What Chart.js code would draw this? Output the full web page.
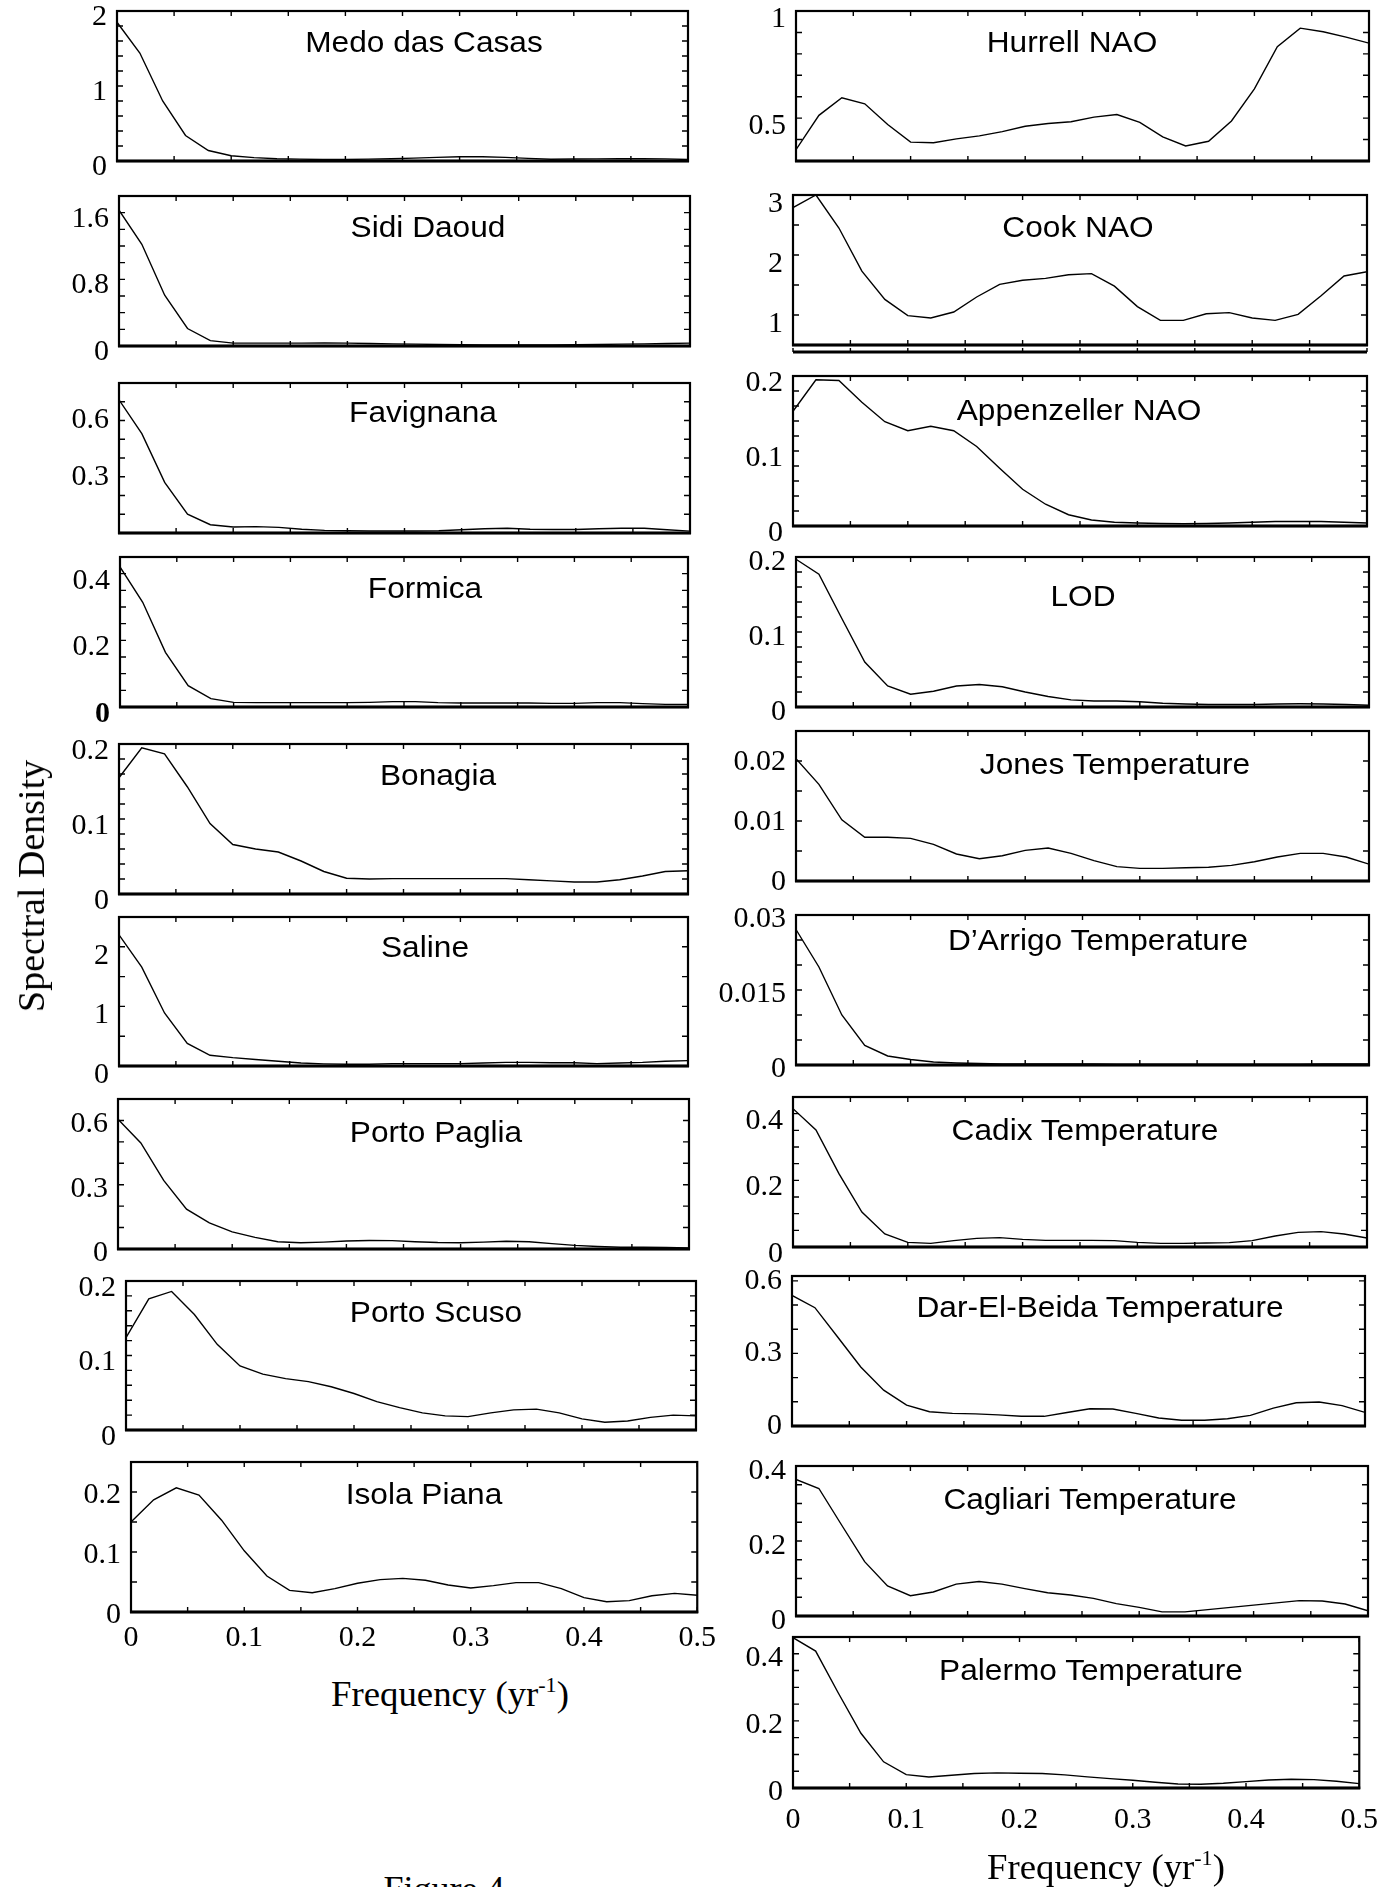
<!DOCTYPE html>
<html><head><meta charset="utf-8">
<script src="https://cdn.jsdelivr.net/npm/chart.js@4.4.1/dist/chart.umd.min.js"></script>
<style>
html,body{margin:0;padding:0;background:#fff;}
#page{position:relative;width:1394px;height:1887px;overflow:hidden;background:#fff;}
#page canvas{position:absolute;}
.t{position:absolute;white-space:nowrap;line-height:1;color:#000;}
.ttl{font-family:'Liberation Sans',Arial,sans-serif;font-size:30px;transform:translate(-50%,-50%) scaleX(1.055);}
.ax{font-family:'Liberation Serif','Times New Roman',serif;font-size:35px;transform:translate(-50%,-50%) scaleX(1.05);}
.ax .sp{font-size:21px;position:relative;top:-14px;}
</style></head><body><div id="page"></div>
<script>
// ---------- data ----------
const freq = [0,0.02,0.04,0.06,0.08,0.10,0.12,0.14,0.16,0.18,0.20,0.22,0.24,0.26,0.28,0.30,0.32,0.34,0.36,0.38,0.40,0.42,0.44,0.46,0.48,0.50];
const xTickLabels = [0,0.1,0.2,0.3,0.4,0.5];

const medo = [1.85,1.44,0.80,0.34,0.14,0.07,0.045,0.03,0.025,0.02,0.02,0.025,0.03,0.038,0.048,0.057,0.057,0.048,0.035,0.024,0.026,0.028,0.03,0.03,0.028,0.02];
const sidiDaoud = [1.63,1.22,0.61,0.21,0.065,0.034,0.034,0.034,0.035,0.036,0.034,0.03,0.026,0.022,0.018,0.015,0.013,0.012,0.012,0.013,0.015,0.018,0.022,0.026,0.03,0.034];
const favignana = [0.71,0.53,0.27,0.10,0.044,0.032,0.034,0.03,0.02,0.014,0.012,0.011,0.011,0.011,0.012,0.017,0.023,0.025,0.02,0.019,0.019,0.023,0.025,0.025,0.017,0.01];
const formica = [0.42,0.314,0.164,0.064,0.025,0.014,0.013,0.013,0.013,0.013,0.013,0.014,0.016,0.016,0.013,0.012,0.012,0.012,0.012,0.011,0.011,0.013,0.013,0.01,0.008,0.008];
const bonagia = [0.155,0.195,0.187,0.143,0.094,0.066,0.060,0.056,0.044,0.030,0.021,0.020,0.0205,0.0205,0.0205,0.0205,0.0205,0.0205,0.019,0.0175,0.016,0.016,0.019,0.024,0.030,0.031];
const saline = [2.20,1.66,0.89,0.38,0.18,0.14,0.11,0.08,0.05,0.036,0.03,0.03,0.04,0.04,0.04,0.04,0.05,0.06,0.06,0.054,0.054,0.04,0.05,0.06,0.08,0.09];
const portoPaglia = [0.605,0.495,0.32,0.186,0.122,0.08,0.054,0.034,0.029,0.032,0.037,0.04,0.039,0.034,0.03,0.029,0.032,0.036,0.034,0.025,0.017,0.012,0.008,0.008,0.007,0.005];
const portoScuso = [0.124,0.176,0.186,0.155,0.115,0.086,0.075,0.069,0.065,0.058,0.049,0.038,0.030,0.023,0.019,0.018,0.023,0.027,0.028,0.023,0.015,0.0105,0.012,0.017,0.020,0.019];
const isolaPiana = [0.15,0.187,0.207,0.195,0.153,0.102,0.06,0.036,0.032,0.039,0.048,0.054,0.056,0.053,0.045,0.040,0.044,0.049,0.049,0.039,0.024,0.017,0.019,0.027,0.031,0.028];

const hurrellNAO = [0.353,0.513,0.595,0.567,0.47,0.388,0.385,0.403,0.417,0.437,0.462,0.475,0.483,0.505,0.517,0.48,0.413,0.37,0.392,0.487,0.637,0.833,0.92,0.903,0.878,0.85];
const cookNAO = [2.79,3.0,2.45,1.73,1.26,0.99,0.95,1.05,1.30,1.51,1.58,1.61,1.67,1.69,1.48,1.14,0.91,0.91,1.02,1.04,0.95,0.91,1.01,1.32,1.65,1.72];
const appenzellerNAO = [0.153,0.195,0.194,0.165,0.139,0.127,0.133,0.127,0.106,0.077,0.049,0.029,0.015,0.008,0.005,0.004,0.0033,0.003,0.0033,0.004,0.005,0.006,0.006,0.006,0.005,0.004];
const lod = [0.197,0.177,0.118,0.06,0.028,0.017,0.021,0.028,0.030,0.027,0.020,0.014,0.0095,0.008,0.008,0.007,0.005,0.004,0.0033,0.0033,0.0033,0.004,0.0043,0.004,0.0033,0.0024];
const jonesT = [0.0204,0.0161,0.0102,0.0073,0.0073,0.0071,0.0061,0.0045,0.0037,0.0042,0.0051,0.0055,0.0046,0.0034,0.0024,0.0021,0.0021,0.0022,0.0023,0.0026,0.0032,0.004,0.0046,0.0046,0.004,0.0028];
const darrigoT = [0.0271,0.0196,0.010,0.0039,0.0018,0.0011,0.0006,0.0004,0.0003,0.0002,0.0002,0.0002,0.0002,0.0002,0.00014,0.00014,0.00014,0.00014,0.00014,0.00014,0.00014,0.00014,0.00014,0.0002,0.0002,0.0002];
const cadixT = [0.415,0.351,0.22,0.105,0.039,0.014,0.011,0.019,0.026,0.028,0.023,0.02,0.02,0.02,0.019,0.014,0.011,0.011,0.012,0.013,0.019,0.033,0.044,0.046,0.039,0.027];
const darElBeidaT = [0.54,0.489,0.367,0.244,0.148,0.086,0.059,0.052,0.050,0.046,0.040,0.040,0.056,0.071,0.070,0.052,0.033,0.024,0.024,0.030,0.044,0.074,0.096,0.099,0.084,0.056];
const cagliariT = [0.364,0.34,0.242,0.145,0.08,0.054,0.064,0.085,0.092,0.085,0.073,0.062,0.056,0.047,0.033,0.023,0.011,0.011,0.017,0.023,0.029,0.035,0.041,0.04,0.032,0.014];
const palermoT = [0.448,0.408,0.283,0.163,0.078,0.04,0.033,0.038,0.043,0.045,0.044,0.043,0.039,0.033,0.028,0.023,0.017,0.012,0.011,0.014,0.019,0.024,0.026,0.025,0.02,0.013];

// y axis ranges: [min, max, minor step], and labelled tick values
const panels = [
  {name:'Medo das Casas', values:medo, y:[0,2,0.2], labels:[0,1,2]},
  {name:'Sidi Daoud', values:sidiDaoud, y:[0,1.8,0.2], labels:[0,0.8,1.6]},
  {name:'Favignana', values:favignana, y:[0,0.8,0.1], labels:[0.3,0.6]},
  {name:'Formica', values:formica, y:[0,0.45,0.05], labels:[0,0.2,0.4]},
  {name:'Bonagia', values:bonagia, y:[0,0.2,0.02], labels:[0,0.1,0.2]},
  {name:'Saline', values:saline, y:[0,2.5,0.5], labels:[0,1,2]},
  {name:'Porto Paglia', values:portoPaglia, y:[0,0.7,0.1], labels:[0,0.3,0.6]},
  {name:'Porto Scuso', values:portoScuso, y:[0,0.2,0.02], labels:[0,0.1,0.2]},
  {name:'Isola Piana', values:isolaPiana, y:[0,0.25,0.05], labels:[0,0.1,0.2]},
  {name:'Hurrell NAO', values:hurrellNAO, y:[0.3,1,0.1], labels:[0.5,1]},
  {name:'Cook NAO', values:cookNAO, y:[0.5,3,0.5], labels:[1,2,3]},
  {name:'Appenzeller NAO', values:appenzellerNAO, y:[0,0.2,0.02], labels:[0,0.1,0.2]},
  {name:'LOD', values:lod, y:[0,0.2,0.02], labels:[0,0.1,0.2]},
  {name:'Jones Temperature', values:jonesT, y:[0,0.025,0.005], labels:[0,0.01,0.02]},
  {name:'D\u2019Arrigo Temperature', values:darrigoT, y:[0,0.03,0.005], labels:[0,0.015,0.03]},
  {name:'Cadix Temperature', values:cadixT, y:[0,0.45,0.05], labels:[0,0.2,0.4]},
  {name:'Dar-El-Beida Temperature', values:darElBeidaT, y:[0,0.62,0.1], labels:[0,0.3,0.6]},
  {name:'Cagliari Temperature', values:cagliariT, y:[0,0.4,0.05], labels:[0,0.2,0.4]},
  {name:'Palermo Temperature', values:palermoT, y:[0,0.45,0.05], labels:[0,0.2,0.4]}
];

// ---------- layout (box left, top, right, bottom; title centre; label offset) ----------
const layout = [
  {box:[117,11,688,161], title:[424,42], lo:6},
  {box:[119,196,690,346], title:[428,227], lo:6},
  {box:[119,383,690,533], title:[423,412], lo:0},
  {box:[120,557,688,707], title:[425,588], lo:7, boldZero:true},
  {box:[119,744,688,894], title:[438,775], lo:7},
  {box:[119,917,688,1066], title:[425,947], lo:9},
  {box:[118,1099,689,1249], title:[436,1132], lo:4},
  {box:[126,1281,696,1430], title:[436,1312], lo:7},
  {box:[131,1462,699,1612], title:[424,1494], lo:3, bottom:true, xPad:8},
  {box:[796,11,1369,161], title:[1072,42], lo:8},
  {box:[793,195,1367,345], title:[1078,227], lo:9, extra:7},
  {box:[793,376,1367,526], title:[1079,410], lo:7},
  {box:[796,557,1369,707], title:[1083,596], lo:5},
  {box:[796,731,1369,881], title:[1115,764], lo:1},
  {box:[796,915,1369,1065], title:[1098,940], lo:4},
  {box:[793,1097,1367,1247], title:[1085,1130], lo:7},
  {box:[792,1276,1365,1426], title:[1100,1307], lo:0},
  {box:[796,1466,1368,1616], title:[1090,1499], lo:5},
  {box:[793,1637,1367,1788], title:[1091,1670], lo:4, bottom:true, xPad:14}
];

const page = document.getElementById('page');
const PL = 100, PR = 25, PT = 40;
const TICK_FONT = "'Liberation Serif', 'Times New Roman', serif";

function tickValues(min, max, step) {
  const out = [];
  const n = Math.floor((max - min) / step + 1e-6);
  for (let i = 0; i <= n; i++) out.push(+(min + i * step).toFixed(6));
  return out;
}
const xTicks = tickValues(0, 0.5, 0.05);

const frame = {
  id: 'frame',
  afterDatasetsDraw(chart, args, o) {
    const {ctx, chartArea: a} = chart;
    const xs = chart.scales.x, ys = chart.scales.y;
    ctx.save();
    ctx.strokeStyle = '#000';
    ctx.lineWidth = 1.4;
    ctx.beginPath();
    xs.ticks.forEach(t => {
      const p = xs.getPixelForValue(t.value);
      ctx.moveTo(p, a.bottom); ctx.lineTo(p, a.bottom - 5);
      ctx.moveTo(p, a.top); ctx.lineTo(p, a.top + 5);
    });
    ys.ticks.forEach(t => {
      const p = ys.getPixelForValue(t.value);
      ctx.moveTo(a.left, p); ctx.lineTo(a.left + 6, p);
      ctx.moveTo(a.right, p); ctx.lineTo(a.right - 6, p);
    });
    ctx.stroke();
    ctx.lineWidth = 2.2;
    ctx.strokeRect(a.left, a.top, a.right - a.left, a.bottom - a.top);
    ctx.lineWidth = 3;
    ctx.beginPath(); ctx.moveTo(a.left - 1, a.bottom); ctx.lineTo(a.right + 1, a.bottom); ctx.stroke();
    if (o && o.extra) {
      const yy = a.bottom + o.extra;
      ctx.lineWidth = 3;
      ctx.beginPath(); ctx.moveTo(a.left, yy); ctx.lineTo(a.right, yy); ctx.stroke();
      ctx.lineWidth = 1.4;
      ctx.beginPath();
      xs.ticks.forEach(t => {
        const p = xs.getPixelForValue(t.value);
        ctx.moveTo(p, yy); ctx.lineTo(p, yy - 4);
      });
      ctx.stroke();
    }
    ctx.restore();
  }
};

const near = (list, v) => list.find(l => Math.abs(l - v) < 1e-9);

panels.forEach((p, i) => {
  const L = layout[i];
  const [bl, bt, br, bb] = L.box;
  const PB = L.bottom ? 60 : 40;
  const cv = document.createElement('canvas');
  cv.width = (br - bl) + PL + PR;
  cv.height = (bb - bt) + PT + PB;
  cv.style.left = (bl - PL) + 'px';
  cv.style.top = (bt - PT) + 'px';
  page.appendChild(cv);
  const yT = tickValues(p.y[0], p.y[1], p.y[2]);
  new Chart(cv, {
    type: 'line',
    data: {datasets: [{
      data: freq.map((f, k) => ({x: f, y: p.values[k]})),
      borderColor: '#000', borderWidth: 1.4, pointRadius: 0, tension: 0, fill: false
    }]},
    options: {
      responsive: false, maintainAspectRatio: false, animation: false,
      layout: {padding: {top: PT, right: PR, bottom: 0, left: 0}},
      plugins: {legend: {display: false}, tooltip: {enabled: false}, frame: {extra: L.extra || 0}},
      scales: {
        x: {
          type: 'linear', min: 0, max: 0.5,
          grid: {display: false, drawTicks: false}, border: {display: false},
          afterBuildTicks: s => { s.ticks = xTicks.map(v => ({value: v})); },
          afterFit: s => { s.height = PB; },
          ticks: {
            autoSkip: false, maxRotation: 0, minRotation: 0, padding: L.xPad || 8, color: '#000',
            font: {family: TICK_FONT, size: 30},
            callback: v => { if (!L.bottom) return ''; const m = near(xTickLabels, v); return m === undefined ? '' : String(m); }
          }
        },
        y: {
          type: 'linear', min: p.y[0], max: p.y[1],
          grid: {display: false, drawTicks: false}, border: {display: false},
          afterBuildTicks: s => { s.ticks = yT.map(v => ({value: v})); },
          afterFit: s => { s.width = PL; },
          ticks: {
            autoSkip: false, padding: 10, labelOffset: L.lo, color: '#000',
            font: c => ({family: TICK_FONT, size: 30,
                         weight: (L.boldZero && c.tick && c.tick.value === 0) ? 'bold' : 'normal'}),
            callback: v => { const m = near(p.labels, v); return m === undefined ? '' : String(m); }
          }
        }
      }
    },
    plugins: [frame]
  });
  const t = document.createElement('div');
  t.className = 't ttl';
  t.textContent = p.name;
  t.style.left = L.title[0] + 'px';
  t.style.top = L.title[1] + 'px';
  page.appendChild(t);
});

function addText(cls, html, x, y, extraStyle) {
  const d = document.createElement('div');
  d.className = 't ' + cls;
  d.innerHTML = html;
  d.style.left = x + 'px';
  d.style.top = y + 'px';
  if (extraStyle) Object.assign(d.style, extraStyle);
  page.appendChild(d);
}
addText('ax', 'Frequency (yr<span class="sp">-1</span>)', 450, 1694);
addText('ax', 'Frequency (yr<span class="sp">-1</span>)', 1106, 1867);
addText('', 'Spectral Density', 31, 886, {fontFamily: "'Liberation Serif','Times New Roman',serif", fontSize: '38px', transform: 'translate(-50%,-50%) rotate(-90deg)'});
addText('', 'Figure 4', 444, 1871, {fontFamily: "'Liberation Serif','Times New Roman',serif", fontSize: '36px', transform: 'translateX(-50%)'});
</script></body></html>
